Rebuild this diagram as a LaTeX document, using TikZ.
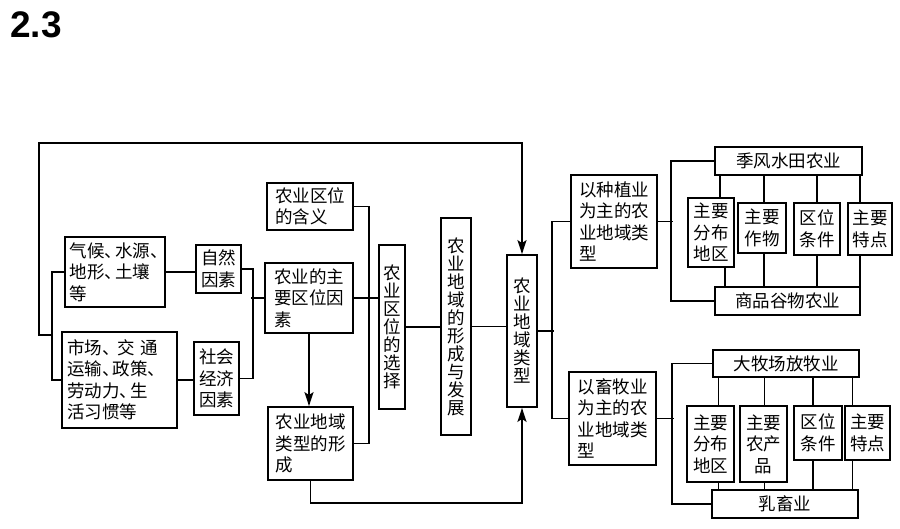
\documentclass[tikz,border=0pt]{standalone}
\usepackage{fontspec}
\newfontfamily\cjk{Noto Sans CJK SC}
\newfontfamily\titelfont{Liberation Sans}
\usetikzlibrary{arrows, positioning, calc, arrows.meta}
% half-width enumeration comma
\newcommand{\dun}{\makebox[0.6em][l]{、}}
\tikzset{
    %Define standard arrow tip
    >={Stealth[length=14pt, width=9pt, inset=3pt]},
    %Define style for boxes
    kasse/.style={
           rectangle,
           draw=black, line width=1.8pt,
           inner sep=3pt,
           font=\cjk\fontsize{17.5}{21.5}\selectfont,
           align=left},
    % narrow boxes, text from top to bottom
    lodret/.style={
           kasse,
           align=center,
           font=\cjk\fontsize{17.5}{18}\selectfont},
    % size of a box
    maal/.style 2 args={
           minimum width=#1pt,
           minimum height=#2pt},
    % Define line styles
    streg/.style={
           line width=1.8pt},
    pilstreg/.style={
           ->,
           line width=1.8pt}
}

\begin{document}
\begin{tikzpicture}[x=1pt, y=-1pt]
	\useasboundingbox (0,0) rectangle (900,528);
	%
	% titel
	%
	\node[anchor=base west, inner sep=0pt, font=\titelfont\bfseries\fontsize{37}{40}\selectfont] (titel) at (10,37) {2.3};
	%
	% kasser, venstre del
	%
	\node[kasse, maal={100}{70}] (klima) at (115,272) {气候\dun 水源\dun\\地形\dun 土壤\\等};
	\node[kasse, maal={115}{96}, text width=105pt] (marked) at (119.5,380) {市场\dun\hspace{0.3em}交\hspace{0.3em}通\\运输\dun 政策\dun\\劳动力\dun 生\\活习惯等};
	\node[kasse, align=center, maal={45}{48}] (natur) at (218.5,269) {自然\\因素};
	\node[kasse, align=center, maal={45}{73}] (social) at (216.5,378.5) {社会\\经济\\因素};
	\node[kasse, maal={86}{47}] (begreb) at (310,206.5) {农业区位\\的含义};
	\node[kasse, maal={88}{70}] (faktor) at (309,298) {农业的主\\要区位因\\素};
	\node[kasse, maal={85}{73}] (dannelse) at (310.5,443.5) {农业地域\\类型的形\\成};
	\node[lodret, maal={26}{164}] (valg) at (392,327) {农\\业\\区\\位\\的\\选\\择};
	\node[lodret, maal={30}{217}] (udvikling) at (456,326.5) {农\\业\\地\\域\\的\\形\\成\\与\\发\\展};
	\node[lodret, maal={30}{152}] (typer) at (522,331) {农\\业\\地\\域\\类\\型};
	%
	% kasser, hoejre del
	%
	\node[kasse, maal={86}{93}] (planter) at (614,221.5) {以种植业\\为主的农\\业地域类\\型};
	\node[kasse, maal={87}{93}] (husdyr) at (612.5,418.5) {以畜牧业\\为主的农\\业地域类\\型};
	\node[kasse, align=center, maal={147}{28}] (ris) at (788.5,161) {季风水田农业};
	\node[kasse, align=center, maal={145}{28}] (korn) at (787.5,301) {商品谷物农业};
	\node[kasse, align=center, maal={46}{69}] (omraade1) at (711,232.5) {主要\\分布\\地区};
	\node[kasse, align=center, maal={48}{50}] (afgroede) at (762,228) {主要\\作物};
	\node[kasse, align=center, maal={46}{52}] (betingelse1) at (817,229) {区位\\条件};
	\node[kasse, align=center, maal={44}{52}] (traek1) at (870,229) {主要\\特点};
	\node[kasse, align=center, maal={146}{27}] (ranch) at (786,363.5) {大牧场放牧业};
	\node[kasse, align=center, maal={146}{28}] (mejeri) at (785,504) {乳畜业};
	\node[kasse, align=center, maal={47}{76}] (omraade2) at (710.5,444) {主要\\分布\\地区};
	\node[kasse, align=center, maal={47}{76}] (produkt) at (763.5,444) {主要\\农产\\品};
	\node[kasse, align=center, maal={48}{54}] (betingelse2) at (818,433) {区位\\条件};
	\node[kasse, align=center, maal={45}{54}] (traek2) at (867.5,433) {主要\\特点};
	%
	% forbindelser
	%
	\coordinate (klamme) at (52,335);
	\coordinate (oppe) at (39,143);
	\draw[streg] (klima.west) -- (klima.west -| klamme) -- (marked.west -| klamme) -- (marked.west);
	\draw[pilstreg] (klamme) -| (oppe) -| (typer.north);
	\draw[streg] (klima.east) -- (klima.east -| natur.west);
	\draw[streg] (marked.east) -- (marked.east -| social.west);
	\draw[streg] (natur.east) -- ++(11,0) |- (social.east);
	\draw[streg] (faktor.west) -- ++(-13,0);
	\draw[streg] (begreb.east) -- ++(15,0) |- (dannelse.east);
	\draw[streg] (faktor.east) -- (faktor.east -| valg.west);
	\draw[pilstreg] (faktor.south) -- (faktor.south |- dannelse.north);
	\draw[streg] (valg.east) -- (valg.east -| udvikling.west);
	\draw[streg] (udvikling.east) -- (udvikling.east -| typer.west);
	\draw[pilstreg] (dannelse.south) -- ++(0,22) -| (typer.south);
	\draw[streg] (planter.west) -- ++(-18,0) |- (husdyr.west);
	\draw[streg] (typer.east) -- ++(16,0);
	\draw[streg] (ris.west) -- ++(-43,0) |- (korn.west);
	\draw[streg] (planter.east) -- ++(15,0);
	\draw[streg] (ranch.west) -- ++(-40,0) |- (mejeri.west);
	\draw[streg] (husdyr.east) -- ++(17,0);
	\foreach \n/\d in {omraade1/9, afgroede/2, betingelse1/0, traek1/-10}
		\draw[streg] ([xshift=\d]\n.north) -- ([xshift=\d]\n.north |- ris.south);
	\foreach \n/\d in {omraade1/14, afgroede/2, betingelse1/0, traek1/-10}
		\draw[streg] ([xshift=\d]\n.south) -- ([xshift=\d]\n.south |- korn.north);
	\foreach \n/\d in {omraade2/8, produkt/1, betingelse2/-5, traek2/-15}
		\draw[streg] ([xshift=\d]\n.north) -- ([xshift=\d]\n.north |- ranch.south);
	\foreach \n/\d in {omraade2/8, produkt/1, betingelse2/-5, traek2/-15}
		\draw[streg] ([xshift=\d]\n.south) -- ([xshift=\d]\n.south |- mejeri.north);
\end{tikzpicture}
\end{document}
